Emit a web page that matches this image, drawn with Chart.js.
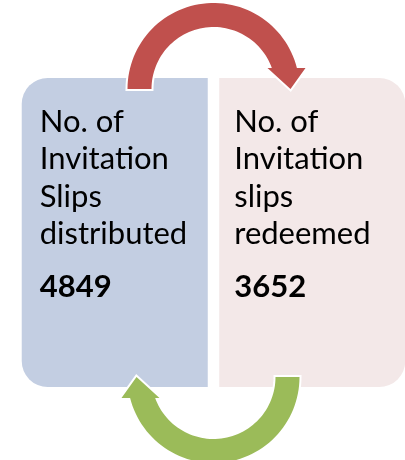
<!DOCTYPE html>
<html><head><meta charset="utf-8">
<script src="https://cdn.jsdelivr.net/npm/chart.js@4"></script>
<style>html,body{margin:0;padding:0;background:#fff;overflow:hidden;width:405px;height:460px}#c{display:block}</style>
</head><body>
<canvas id="c" width="412" height="460"></canvas>
<script>
const categories = ["distributed", "redeemed"];
const labelLines = [
  ["No. of", "Invitation", "Slips", "distributed"],
  ["No. of", "Invitation", "slips", "redeemed"]
];
const values = [4849, 3652];
const boxColors = ["#C3CEE2", "#F3E8E8"];
const arrowColors = ["#C0504D", "#9BBB59"];
const textInset = [18, 15];

const FONT = "Lato, 'Open Sans', sans-serif";

function arrowPath(ctx, cx, cy, dir) {
  const Ro = 86, Ri = 62, h = 21;
  const aO = Math.asin(h / Ro), aI = Math.asin(h / Ri);
  ctx.beginPath();
  const P = (dx, dy) => [cx + dir * dx, cy + dir * dy];
  const steps = 60;
  for (let i = 0; i <= steps; i++) {
    const a = Math.PI + (Math.PI - aO) * i / steps;
    const p = P(Ro * Math.cos(a), Ro * Math.sin(a));
    if (i === 0) ctx.moveTo(p[0], p[1]); else ctx.lineTo(p[0], p[1]);
  }
  let p = P(92, -h); ctx.lineTo(p[0], p[1]);
  p = P(77, 0); ctx.lineTo(p[0], p[1]);
  p = P(54, -h); ctx.lineTo(p[0], p[1]);
  for (let i = 0; i <= steps; i++) {
    const a = (2 * Math.PI - aI) - (Math.PI - aI) * i / steps;
    const q = P(Ri * Math.cos(a), Ri * Math.sin(a));
    ctx.lineTo(q[0], q[1]);
  }
  ctx.closePath();
}

const overlay = {
  id: "overlay",
  afterDatasetsDraw(chart) {
    const ctx = chart.ctx;
    const ca = chart.chartArea;
    const bars = chart.data.datasets.map((d, i) => chart.getDatasetMeta(i).data[i]);
    ctx.save();
    ctx.fillStyle = "#000";
    ctx.textBaseline = "alphabetic";
    bars.forEach((b, i) => {
      const left = b.x - b.width / 2 + textInset[i];
      ctx.font = "31px " + FONT;
      labelLines[i].forEach((t, j) => {
        ctx.fillText(t, left, ca.top + 54 + j * 37.4);
      });
      ctx.font = "bold 31px " + FONT;
      ctx.fillText(String(values[i]), left, ca.top + 219);
    });
    const gapX = (bars[0].x + bars[0].width / 2 + bars[1].x - bars[1].width / 2) / 2;
    [[ca.top + 11, 1, 0], [ca.bottom - 10, -1, 1]].forEach(([cy, dir, k]) => {
      arrowPath(ctx, gapX, cy, dir);
      ctx.lineJoin = "miter";
      ctx.strokeStyle = "#fff";
      ctx.lineWidth = 4;
      ctx.stroke();
      ctx.fillStyle = arrowColors[k];
      ctx.fill();
    });
    ctx.restore();
  }
};

new Chart(document.getElementById("c"), {
  type: "bar",
  data: {
    labels: categories,
    datasets: [
      { data: [values[0], null], yAxisID: "y0", backgroundColor: boxColors[0],
        borderSkipped: false, borderRadius: { topLeft: 26, bottomLeft: 26, topRight: 0, bottomRight: 0 } },
      { data: [null, values[1]], yAxisID: "y1", backgroundColor: boxColors[1],
        borderSkipped: false, borderRadius: { topLeft: 0, bottomLeft: 0, topRight: 26, bottomRight: 26 } }
    ]
  },
  options: {
    responsive: false,
    animation: false,
    events: [],
    layout: { padding: { left: 16, right: 1, top: 78, bottom: 73 } },
    plugins: { legend: { display: false }, tooltip: { enabled: false } },
    datasets: { bar: { skipNull: true, categoryPercentage: 1, barPercentage: 0.942 } },
    scales: {
      x: { display: false },
      y0: { display: false, min: 0, max: values[0] },
      y1: { display: false, min: 0, max: values[1] }
    }
  },
  plugins: [overlay]
});
</script>
</body></html>
